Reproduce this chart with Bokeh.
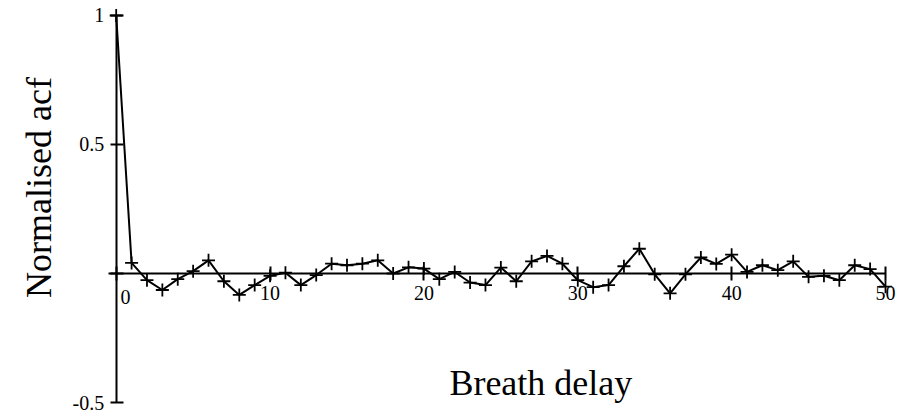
import math
from bokeh.plotting import figure
from bokeh.models import FixedTicker, Range1d, Label
from bokeh.embed import file_html
from bokeh.resources import INLINE

# Data: normalised autocorrelation vs breath delay (lag)
lags = list(range(0, 51))
acf = [1.0, 0.041, -0.026, -0.064, -0.022, 0.009, 0.051, -0.030, -0.083, -0.045,
       -0.009, 0.003, -0.045, -0.006, 0.038, 0.032, 0.038, 0.051, 0.0, 0.024,
       0.019, -0.022, 0.006, -0.035, -0.045, 0.023, -0.030, 0.047, 0.068, 0.038,
       -0.026, -0.053, -0.045, 0.028, 0.096, -0.003, -0.077, -0.003, 0.062, 0.037,
       0.073, 0.006, 0.032, 0.013, 0.047, -0.013, -0.009, -0.026, 0.032, 0.017, -0.051]

x_ticks = [0, 10, 20, 30, 40, 50]
y_ticks = [-0.5, 0, 0.5, 1]
y_tick_labels = {1: "1", 0.5: "0.5", 0: "", -0.5: "-0.5"}
x_tick_labels = {0: ""}

FONT = "Liberation Serif"

p = figure(width=909, height=414, frame_width=909, frame_height=414,
           min_border_left=0, min_border_right=0, min_border_top=0, min_border_bottom=0,
           x_range=Range1d(-7.52, 51.56), y_range=Range1d(-0.5465, 1.0581),
           output_backend="svg", toolbar_location=None)

p.outline_line_color = None
p.xgrid.visible = False
p.ygrid.visible = False
p.background_fill_color = "white"
p.border_fill_color = "white"

for ax in (p.xaxis, p.yaxis):
    ax.fixed_location = 0
    ax.axis_line_width = 2
    ax.axis_line_color = "black"
    ax.major_tick_line_width = 2
    ax.major_tick_line_color = "black"
    ax.minor_tick_line_color = None
    ax.major_label_text_font = FONT
    ax.major_label_text_color = "black"

p.xaxis.bounds = (-0.5, 50)
p.xaxis.ticker = FixedTicker(ticks=x_ticks)
p.xaxis.major_label_overrides = x_tick_labels
p.xaxis.major_tick_in = 7
p.xaxis.major_tick_out = 7
p.xaxis.major_label_standoff = 6
p.xaxis.major_label_text_font_size = "20px"

p.yaxis.bounds = (-0.5, 1)
p.yaxis.ticker = FixedTicker(ticks=y_ticks)
p.yaxis.major_label_overrides = y_tick_labels
p.yaxis.major_tick_in = 7
p.yaxis.major_tick_out = 6
p.yaxis.major_label_standoff = 6
p.yaxis.major_label_text_font_size = "20px"

p.line(lags, acf, line_color="black", line_width=2)
p.scatter(lags, acf, marker="cross", size=13, line_color="black", line_width=1.8)

# x tick label "0" set beside the vertical axis
p.add_layout(Label(x=0.6, y=-0.064, text="0", text_font=FONT, text_font_size="20px",
                   text_align="center", text_baseline="top", text_color="black"))

# axis titles
p.add_layout(Label(x=27.6, y=-0.4225, text="Breath delay", text_font=FONT,
                   text_font_size="36px", text_align="center", text_baseline="alphabetic",
                   text_color="black"))
p.add_layout(Label(x=-5.05, y=0.333, text="Normalised acf", text_font=FONT,
                   text_font_size="36px", text_align="center", text_baseline="alphabetic",
                   angle=math.pi / 2, text_color="black"))

open("out.html", "w").write(file_html(p, INLINE))
